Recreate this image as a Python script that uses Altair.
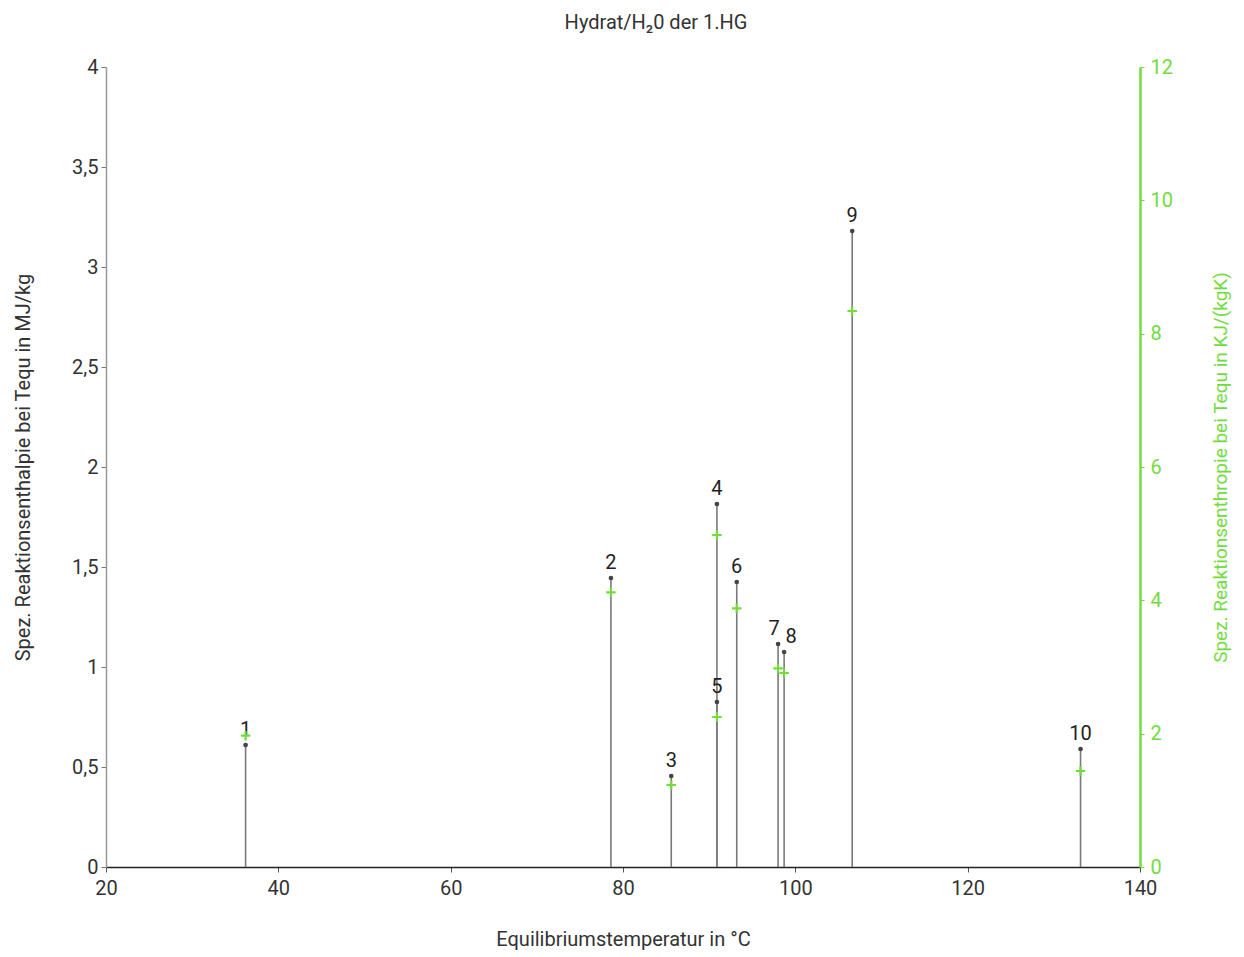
import altair as alt
import pandas as pd

nr = ["1", "2", "3", "4", "5", "6", "7", "8", "9", "10"]
temperatur = [36.2, 78.6, 85.6, 90.9, 90.9, 93.2, 98.0, 98.7, 106.6, 133.1]
enthalpie = [0.61, 1.445, 0.455, 1.815, 0.825, 1.425, 1.115, 1.075, 3.18, 0.59]
entropie = [1.97, 4.12, 1.23, 4.98, 2.25, 3.88, 2.98, 2.91, 8.34, 1.44]
label_dx = [0, 0, 0, 0, 0, 0, -4, 7, 0, 0]

x_ticks = [20, 40, 60, 80, 100, 120, 140]
y_left_ticks = [0, 0.5, 1, 1.5, 2, 2.5, 3, 3.5, 4]
y_right_ticks = [0, 2, 4, 6, 8, 10, 12]

df = pd.DataFrame({
    "nr": nr,
    "T": temperatur,
    "H": enthalpie,
    "S": entropie,
    "dx": label_dx,
    "zero": [0] * len(nr),
})

FONT = "Roboto"
GREEN = "#72dc3e"
DARK = "#333333"

x_enc = alt.X(
    "T:Q",
    scale=alt.Scale(domain=[20, 140], nice=False, zero=False),
    axis=alt.Axis(
        values=x_ticks, title="Equilibriumstemperatur in °C", grid=False,
        labelFontSize=20, titleFontSize=20, labelColor=DARK, titleColor=DARK,
        labelFont=FONT, titleFont=FONT, titleFontWeight="normal",
        domainColor="#222222", domainWidth=1.5, tickColor="#555555", tickSize=5,
        labelPadding=6, titlePadding=31, labelFlush=False,
    ),
)

y_left = alt.Y(
    "H:Q",
    scale=alt.Scale(domain=[0, 4], nice=False),
    axis=alt.Axis(
        values=y_left_ticks, grid=False, orient="left",
        title="Spez. Reaktionsenthalpie bei Tequ in MJ/kg",
        labelExpr="replace(format(datum.value, ''), '.', ',')",
        labelFontSize=20, titleFontSize=20, labelColor=DARK, titleColor=DARK,
        labelFont=FONT, titleFont=FONT, titleFontWeight="normal",
        domainColor="#999999", domainWidth=1.5, tickColor="#777777", tickSize=5,
        labelPadding=3, titlePadding=38,
    ),
)

stems = alt.Chart(df).mark_rule(color="#7a7a7a", strokeWidth=1.6).encode(
    x=x_enc, y=y_left, y2="zero:Q"
)
dots = alt.Chart(df).mark_circle(color="#444444", size=22, opacity=1).encode(
    x="T:Q", y="H:Q"
)

label_layers = []
for off in sorted(set(label_dx)):
    label_layers.append(
        alt.Chart(df).transform_filter(alt.datum.dx == off).mark_text(
            baseline="bottom", dy=-5, dx=off, fontSize=20, font=FONT, color="#222222"
        ).encode(x="T:Q", y="H:Q", text="nr:N")
    )

left_layer = alt.layer(stems, dots, *label_layers)

plus = "M-1,0L1,0M0,-1L0,1"
green_pts = alt.Chart(df).mark_point(
    shape=plus, filled=False, color=GREEN, strokeWidth=2.2, size=90, opacity=1
).encode(
    x="T:Q",
    y=alt.Y(
        "S:Q",
        scale=alt.Scale(domain=[0, 12], nice=False),
        axis=alt.Axis(
            values=y_right_ticks, grid=False, orient="right",
            title="Spez. Reaktionsenthropie bei Tequ in KJ/(kgK)",
            titleAngle=270,
            labelFontSize=20, titleFontSize=19, labelColor=GREEN, titleColor=GREEN,
            labelFont=FONT, titleFont=FONT, titleFontWeight="normal",
            domainColor=GREEN, domainWidth=2.5, tickColor=GREEN, tickSize=4,
            labelPadding=6, titlePadding=58,
        ),
    ),
)

chart = alt.layer(left_layer, green_pts).resolve_scale(y="independent").properties(
    width=1034,
    height=800,
    title=alt.TitleParams(
        "Hydrat/H₂0 der 1.HG", fontSize=20, font=FONT, fontWeight="normal",
        color=DARK, dx=33, offset=24,
    ),
).configure_view(stroke=None)

chart.save("out.html", embed_options={"renderer": "svg", "actions": False})
